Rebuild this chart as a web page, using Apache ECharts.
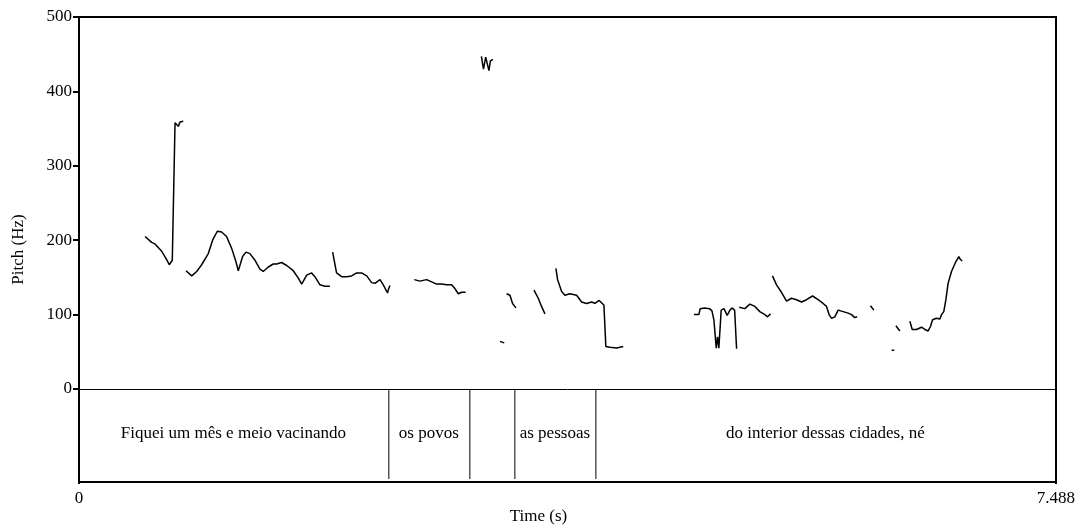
<!DOCTYPE html>
<html>
<head>
<meta charset="utf-8">
<script src="https://cdn.jsdelivr.net/npm/echarts@6/dist/echarts.min.js"></script>
<style>
html,body{margin:0;padding:0;background:#fff;}
#chart{width:1078px;height:526px;}
</style>
</head>
<body>
<div id="chart"></div>
<script>
// Time axis (s) and pitch ticks (Hz)
const timeRange = [0, 7.488];
const pitchTicks = [0, 100, 200, 300, 400, 500];
const timeTicks = [0, 7.488];

// Pitch contour segments: [time (s), pitch (Hz)]
const seg1 = [[0.506,205],[0.557,197],[0.582,195],[0.634,185],[0.672,174],[0.692,167],[0.707,166],[0.715,173],[0.736,358],[0.749,356],[0.761,353],[0.774,359],[0.799,360]];
const seg2 = [[0.820,159],[0.864,152],[0.902,158],[0.940,167],[0.991,182],[1.024,200],[1.060,212],[1.093,211],[1.131,205],[1.170,189],[1.203,171],[1.221,159],[1.234,160],[1.254,178],[1.280,184],[1.310,182],[1.349,173],[1.387,161],[1.412,158],[1.451,164],[1.489,168],[1.515,168],[1.553,170],[1.592,166],[1.642,159],[1.681,149],[1.707,141],[1.745,153],[1.783,156],[1.808,151],[1.847,140],[1.885,138],[1.923,138]];
const seg3 = [[1.944,184],[1.974,156],[2.013,151],[2.051,151],[2.090,152],[2.128,156],[2.166,156],[2.205,152],[2.243,143],[2.268,142],[2.307,147],[2.332,140],[2.365,129],[2.370,133],[2.383,139]];
const seg4 = [[2.570,147],[2.613,145],[2.664,147],[2.703,144],[2.741,141],[2.779,141],[2.817,140],[2.856,140],[2.881,135],[2.907,128],[2.933,130],[2.963,130]];
const seg5 = [[3.084,447],[3.100,430],[3.117,446],[3.142,428],[3.153,441],[3.172,443]];
const seg6 = [[3.226,64],[3.259,62]];
const seg7 = [[3.277,128],[3.303,126],[3.323,115],[3.349,109]];
const seg8 = [[3.487,133],[3.520,122],[3.545,111],[3.571,101]];
const seg9 = [[3.655,162],[3.668,147],[3.699,131],[3.724,126],[3.762,128],[3.814,126],[3.852,117],[3.890,115],[3.929,117],[3.954,115],[3.987,119],[4.023,113],[4.038,57],[4.069,56],[4.120,55],[4.171,57]];
const seg10 = [[4.713,100],[4.751,100],[4.761,108],[4.795,109],[4.833,108],[4.851,105],[4.866,93],[4.884,55],[4.894,70],[4.904,55],[4.922,106],[4.943,108],[4.968,99],[4.989,106],[5.004,109],[5.025,106],[5.040,54]];
const seg11 = [[5.060,110],[5.103,108],[5.142,114],[5.180,111],[5.218,104],[5.257,100],[5.277,97],[5.300,101]];
const seg12 = [[5.315,152],[5.346,140],[5.384,130],[5.423,118],[5.461,122],[5.499,120],[5.538,117],[5.576,120],[5.622,125],[5.665,120],[5.703,115],[5.729,111],[5.749,100],[5.768,95],[5.793,97],[5.818,106],[5.857,104],[5.895,102],[5.921,100],[5.946,96],[5.964,97]];
const seg13 = [[6.066,112],[6.092,106]];
const seg14 = [[6.228,52],[6.248,52]];
const seg15 = [[6.261,85],[6.291,78]];
const seg16 = [[6.368,91],[6.386,80],[6.419,80],[6.457,83],[6.483,80],[6.508,78],[6.526,84],[6.542,93],[6.572,95],[6.598,94],[6.611,100],[6.628,104],[6.644,120],[6.661,142],[6.687,158],[6.720,171],[6.743,178],[6.756,174],[6.769,172]];
const pitchSegments = [seg1,seg2,seg3,seg4,seg5,seg6,seg7,seg8,seg9,seg10,seg11,seg12,seg13,seg14,seg15,seg16];

// Text tier: interval boundaries (s) and labels
const tierBounds = [0, 2.375, 2.996, 3.341, 3.962, 7.488];
const tierTexts = ["Fiquei um mês e meio vacinando", "os povos", "", "as pessoas", "do interior dessas cidades, né"];

const FONT = '"Liberation Serif", "Times New Roman", serif';
const FS = 17;

const chart = echarts.init(document.getElementById('chart'), null, {renderer: 'canvas'});

const pitchSeries = pitchSegments.map(s => ({
  type: 'line', xAxisIndex: 0, yAxisIndex: 0, data: s,
  showSymbol: false, symbol: 'none', silent: true,
  lineStyle: {color: '#000', width: 1.5}
}));

const boundarySeries = tierBounds.slice(1, -1).map(b => ({
  type: 'line', xAxisIndex: 1, yAxisIndex: 1, data: [[b, 0], [b, 1]],
  showSymbol: false, symbol: 'none', silent: true,
  lineStyle: {color: '#000', width: 1}
}));

const tierLabelData = tierTexts.map((txt, i) => [(tierBounds[i] + tierBounds[i+1]) / 2, 0.5, txt]);

const option = {
  animation: false,
  backgroundColor: '#fff',
  textStyle: {fontFamily: FONT},
  grid: [
    {left: 79, right: 22, top: 17, height: 465, show: true, borderColor: '#000', borderWidth: 2, backgroundColor: 'transparent'},
    {left: 79, right: 22, top: 389, height: 93, show: false}
  ],
  xAxis: [
    {gridIndex: 0, type: 'value', min: timeRange[0], max: timeRange[1],
     axisLine: {show: true, onZero: true, lineStyle: {color: '#000', width: 1}},
     axisTick: {show: false}, axisLabel: {show: false}, splitLine: {show: false}},
    {gridIndex: 1, type: 'value', min: timeRange[0], max: timeRange[1], position: 'bottom',
     axisLine: {show: false},
     axisTick: {show: true, customValues: timeTicks, length: 5, lineStyle: {color: '#000', width: 2}},
     axisLabel: {show: true, customValues: timeTicks, margin: 11, color: '#000', fontFamily: FONT, fontSize: FS,
       formatter: v => (v === 0 ? '0' : String(v))},
     splitLine: {show: false},
     name: 'Time (s)', nameLocation: 'middle', nameGap: 29,
     nameTextStyle: {color: '#000', fontFamily: FONT, fontSize: FS, padding: [0, 58, 0, 0]}}
  ],
  yAxis: [
    {gridIndex: 0, type: 'value', min: -125, max: 500,
     axisLine: {show: true, lineStyle: {color: '#000', width: 2}},
     axisTick: {show: true, customValues: pitchTicks, length: 6, lineStyle: {color: '#000', width: 2}},
     axisLabel: {show: true, customValues: pitchTicks, margin: 7, color: '#000', fontFamily: FONT, fontSize: FS},
     splitLine: {show: false},
     name: 'Pitch (Hz)', nameLocation: 'middle', nameRotate: 90, nameGap: 52,
     nameTextStyle: {color: '#000', fontFamily: FONT, fontSize: FS}},
    {gridIndex: 1, type: 'value', min: 0, max: 1, show: false}
  ],
  series: [
    ...pitchSeries,
    ...boundarySeries,
    {type: 'scatter', xAxisIndex: 1, yAxisIndex: 1, data: tierLabelData, symbolSize: 1,
     itemStyle: {color: '#fff', opacity: 1}, silent: true,
     label: {show: true, position: [0, 0], align: 'center', verticalAlign: 'middle',
       color: '#000', opacity: 1, textBorderWidth: 0, fontFamily: FONT, fontSize: FS,
       formatter: p => p.data[2]}}
  ]
};
chart.setOption(option);
</script>
</body>
</html>
